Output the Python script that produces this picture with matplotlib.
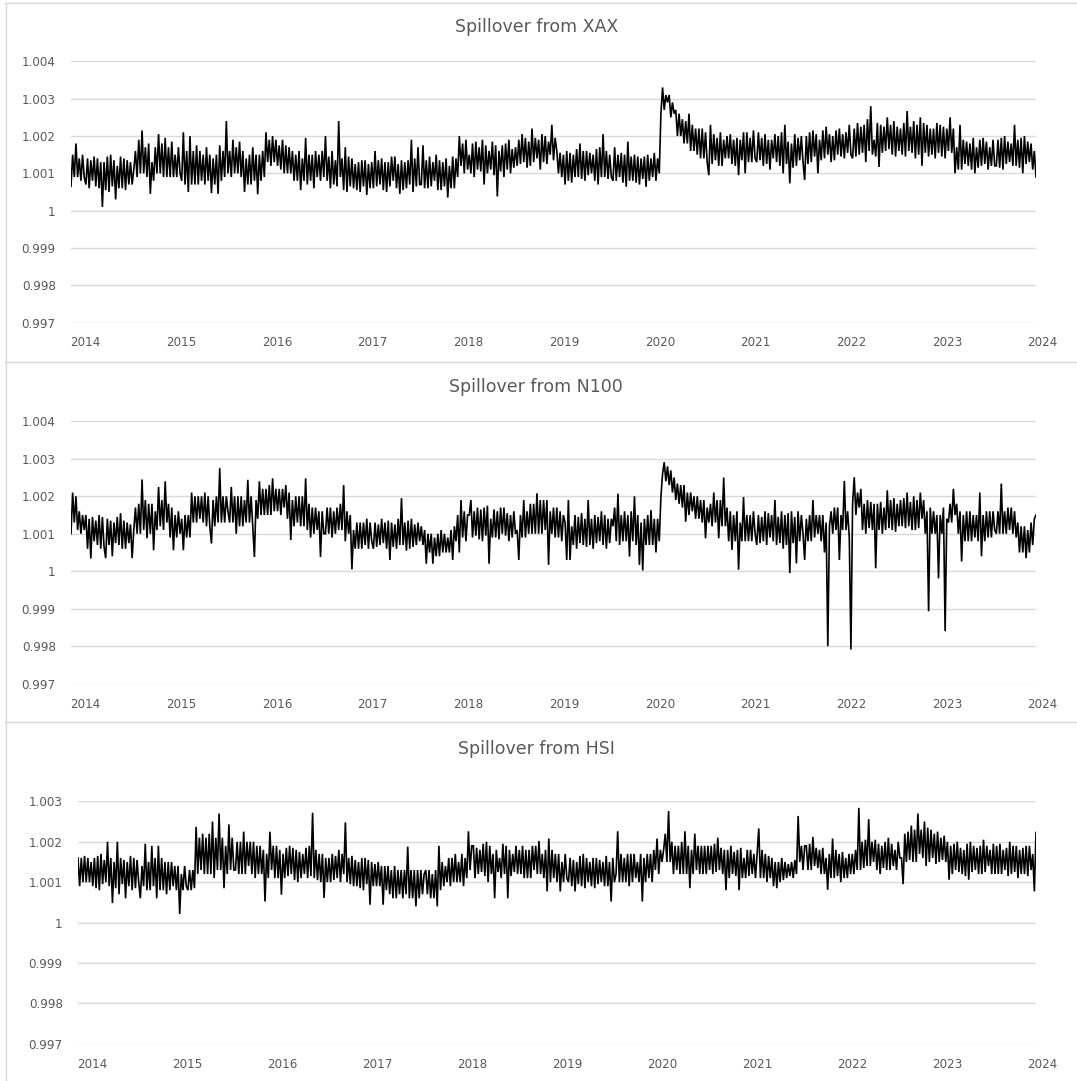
import matplotlib
matplotlib.use("Agg")
import matplotlib.pyplot as plt
from matplotlib.lines import Line2D
import numpy as np

# Spillover index, one row per half year.
# Values are the deviation from 1 in units of 0.001 (1.21 -> 1.00121).
SERIES_START = 2013.85
SERIES_END = 2023.93
YEARS = list(range(2014, 2025))

XAX_DEV = [
    0.65, 1.5, 0.9, 1.8, 0.9, 1.4, 0.8, 1.5, 0.9,
    0.7, 1.4, 0.6, 1.35, 0.8, 1.45, 0.65, 1.4, 0.6, 1.3, 0.1, 1.3, 0.55, 1.45, 0.5, 1.5, 0.65, 1.35, 0.3, 1.2, 0.6, 1.45, 0.6, 1.4, 0.55, 1.35, 0.7, 1.3, 0.7,  # 2014 H1
    1.1, 1.6, 0.9, 1.9, 1.0, 2.15, 1.0, 1.7, 0.9, 1.8, 0.45, 1.3, 0.8, 1.7, 1.0, 2.05, 1.0, 1.8, 0.9, 1.95, 0.9, 1.7, 0.9, 1.85, 0.9, 1.5, 0.9, 1.7, 1.0,  # 2014 H2
    0.8, 2.1, 0.7, 1.6, 0.5, 2.0, 0.7, 1.6, 0.7, 1.75, 0.7, 1.6, 0.8, 1.5, 0.7, 1.7, 0.8, 1.5, 0.47, 1.4, 0.7, 1.5, 0.45, 1.75, 0.8, 1.6, 0.9, 2.4, 1.0,  # 2015 H1
    1.6, 0.9, 1.9, 1.0, 1.7, 1.0, 1.85, 0.9, 1.6, 0.5, 1.4, 0.7, 1.5, 0.7, 1.7, 0.8, 1.5, 0.44, 1.5, 0.8, 1.6, 0.9, 2.1, 1.3, 1.9, 1.2, 2.0, 1.3, 1.9,  # 2015 H2
    1.2, 1.75, 1.1, 1.9, 1.0, 1.75, 1.0, 1.7, 1.0, 1.6, 0.8, 1.5, 0.8, 1.6, 0.55, 1.4, 0.8, 1.95, 0.7, 1.5, 0.8, 1.5, 0.6, 1.6, 0.9, 1.5, 0.8, 1.6, 0.9,  # 2016 H1
    2.0, 0.8, 1.45, 0.6, 1.6, 0.7, 1.35, 0.65, 2.4, 0.9, 1.4, 0.55, 1.7, 0.5, 1.45, 0.65, 1.4, 0.6, 1.25, 0.55, 1.3, 0.5, 1.35, 0.65, 1.35, 0.42, 1.25, 0.6, 1.3,  # 2016 H2
    0.6, 1.6, 0.65, 1.35, 0.7, 1.4, 0.55, 1.3, 0.5, 1.3, 0.65, 1.45, 0.8, 1.45, 0.6, 1.25, 0.45, 1.35, 0.55, 1.3, 0.6, 1.35, 0.7, 1.9, 0.5, 1.4, 0.65, 1.7, 0.7,  # 2017 H1
    0.7, 1.75, 0.6, 1.35, 0.6, 1.45, 0.65, 1.3, 0.8, 1.5, 0.55, 1.35, 0.55, 1.3, 0.65, 1.4, 0.35, 1.2, 0.6, 1.45, 0.6, 1.4, 0.9, 2.0, 1.2, 1.8, 1.0, 1.9, 1.1,  # 2017 H2
    1.5, 1.0, 1.8, 0.9, 1.85, 1.1, 1.7, 1.05, 1.9, 0.7, 1.75, 1.0, 1.6, 1.1, 1.85, 0.95, 1.75, 0.38, 1.6, 1.05, 1.75, 0.9, 1.8, 1.1, 1.9, 1.0, 1.65, 1.15, 1.7,  # 2018 H1
    1.2, 1.9, 1.25, 2.05, 1.3, 1.95, 1.15, 1.85, 1.2, 2.2, 1.3, 1.95, 1.4, 1.9, 1.1, 2.05, 1.3, 2.0, 1.25, 1.85, 1.5, 2.3, 1.35, 1.95, 1.6, 1.0, 1.55, 0.9, 1.5,  # 2018 H2
    0.7, 1.6, 0.8, 1.55, 0.75, 1.5, 0.9, 1.65, 0.9, 1.8, 0.85, 1.6, 0.8, 1.6, 0.95, 1.55, 1.0, 1.5, 0.8, 1.65, 0.7, 1.7, 0.9, 2.05, 0.9, 1.6, 0.85, 1.5, 0.9,  # 2019 H1
    0.8, 1.7, 0.8, 1.5, 0.9, 1.55, 0.75, 1.5, 0.64, 1.85, 0.8, 1.45, 0.8, 1.5, 0.75, 1.45, 0.7, 1.4, 0.85, 1.45, 0.64, 1.5, 0.8, 1.4, 0.9, 1.55, 0.8, 1.4, 1.0,  # 2019 H2
    2.6, 3.3, 2.7, 3.1, 2.9, 3.1, 2.5, 2.9, 2.6, 2.7, 2.0, 2.6, 2.0, 2.45, 1.8, 2.4, 1.8, 2.6, 1.6, 2.3, 1.6, 2.2, 1.5, 2.2, 1.4, 2.2, 1.4, 2.1, 1.3,  # 2020 H1
    0.95, 2.3, 1.25, 2.05, 1.35, 1.95, 1.2, 2.1, 1.2, 1.9, 1.4, 2.0, 1.4, 2.05, 1.25, 1.9, 1.2, 1.95, 0.95, 1.9, 1.35, 2.1, 1.0, 2.1, 1.3, 1.95, 1.3, 2.15, 1.4,  # 2020 H2
    1.3, 2.1, 1.35, 1.95, 1.2, 2.05, 1.25, 1.9, 1.1, 1.9, 1.4, 2.05, 1.3, 2.0, 1.2, 2.1, 1.0, 2.3, 1.25, 1.85, 0.73, 1.8, 1.15, 2.05, 1.2, 1.95, 1.35, 2.0, 1.3,  # 2021 H1
    0.82, 2.0, 1.25, 2.1, 1.3, 2.15, 1.45, 2.05, 1.0, 1.9, 1.35, 2.15, 1.4, 2.25, 1.5, 2.05, 1.3, 2.0, 1.35, 2.15, 1.5, 2.2, 1.45, 2.05, 1.4, 2.1, 1.55, 2.3, 1.5,  # 2021 H2
    1.4, 2.2, 1.45, 2.35, 1.5, 2.25, 1.55, 2.3, 1.3, 2.45, 1.6, 2.8, 1.5, 1.9, 1.45, 2.35, 1.17, 2.3, 1.55, 2.25, 1.6, 2.5, 1.65, 2.3, 1.5, 2.4, 1.45, 2.25, 1.6,  # 2022 H1
    2.2, 1.5, 2.35, 1.45, 2.67, 1.6, 2.25, 1.55, 2.4, 1.4, 2.3, 1.5, 2.5, 1.2, 2.35, 1.55, 2.3, 1.45, 2.2, 1.5, 2.2, 1.4, 2.35, 1.55, 2.3, 1.45, 2.25, 1.4, 2.2,  # 2022 H2
    1.6, 2.5, 1.55, 2.2, 1.0, 1.7, 1.1, 2.3, 1.1, 1.9, 1.25, 1.85, 1.2, 1.8, 1.1, 1.95, 1.0, 1.7, 1.15, 1.9, 1.2, 1.95, 1.25, 1.85, 1.1, 1.7, 1.2, 1.9, 1.2,  # 2023 H1
    1.2, 1.9, 1.15, 1.95, 1.1, 2.0, 1.25, 1.85, 1.3, 1.8, 1.2, 2.3, 1.2, 1.9, 1.15, 1.95, 1.0, 2.0, 1.25, 1.85, 1.3, 1.8, 1.1, 1.6, 0.9,  # 2023 H2
]

N100_DEV = [
    1.0, 2.1, 1.3, 2.0, 1.1, 1.6, 1.0, 1.5, 1.1,
    1.5, 0.6, 1.4, 0.34, 1.45, 0.8, 1.35, 0.7, 1.5, 0.6, 1.45, 0.65, 0.35, 1.4, 0.7, 1.35, 0.4, 1.3, 0.75, 1.45, 0.7, 1.55, 0.6, 1.35, 0.6, 1.3, 0.75, 1.25, 0.35,  # 2014 H1
    1.1, 1.7, 1.0, 1.8, 1.0, 2.45, 1.1, 1.9, 0.88, 1.8, 1.0, 1.8, 0.56, 1.6, 1.1, 2.25, 1.2, 1.9, 1.1, 2.4, 1.3, 1.8, 0.9, 1.7, 0.56, 1.5, 0.9, 1.6, 1.0,  # 2014 H2
    1.4, 0.56, 1.5, 0.9, 1.5, 0.9, 2.1, 1.3, 2.0, 1.3, 2.0, 1.4, 2.0, 1.3, 2.1, 1.2, 2.0, 1.2, 0.74, 1.9, 1.2, 2.0, 1.3, 2.75, 1.3, 2.0, 1.3, 2.0, 1.6,  # 2015 H1
    1.3, 2.25, 1.3, 2.0, 1.0, 2.0, 1.2, 2.0, 1.2, 1.9, 1.3, 2.44, 1.3, 2.0, 1.2, 0.38, 1.9, 1.4, 2.4, 1.5, 2.2, 1.5, 2.2, 1.5, 2.3, 1.5, 2.48, 1.6, 2.2,  # 2015 H2
    1.6, 2.2, 1.5, 2.2, 1.7, 2.3, 1.4, 2.1, 0.83, 1.9, 1.2, 2.0, 1.3, 2.0, 1.2, 2.0, 1.2, 2.48, 1.1, 1.8, 0.9, 1.7, 1.0, 1.7, 1.1, 1.6, 0.38, 1.6, 1.0,  # 2016 H1
    1.0, 1.7, 1.0, 1.7, 0.9, 1.6, 1.0, 1.7, 1.1, 1.8, 1.1, 2.3, 0.8, 1.6, 1.0, 1.5, 0.05, 1.1, 0.6, 1.3, 0.6, 1.3, 0.6, 1.3, 0.7, 1.4, 0.6, 1.3, 0.8,  # 2016 H2
    0.6, 1.3, 0.65, 1.25, 0.7, 1.4, 0.75, 1.3, 0.6, 1.35, 0.3, 1.3, 0.65, 1.25, 0.6, 1.4, 0.7, 1.95, 0.7, 1.3, 0.55, 1.35, 0.6, 1.4, 0.65, 1.25, 0.7, 1.3, 0.8,  # 2017 H1
    1.2, 0.7, 1.1, 0.2, 1.0, 0.5, 1.0, 0.2, 0.9, 0.4, 1.0, 0.4, 1.1, 0.5, 1.0, 0.5, 0.9, 0.5, 1.1, 0.3, 1.2, 0.8, 1.5, 0.5, 1.9, 0.9, 1.6, 0.8, 1.5,  # 2017 H2
    1.5, 1.9, 0.9, 1.6, 0.95, 1.7, 0.85, 1.65, 0.8, 1.7, 0.95, 1.75, 0.2, 1.4, 0.9, 1.65, 0.9, 1.6, 0.85, 1.7, 1.0, 1.7, 0.95, 1.55, 0.8, 1.5, 0.9, 1.6, 1.0,  # 2018 H1
    1.1, 0.3, 1.5, 0.9, 1.9, 0.9, 1.6, 1.0, 1.8, 1.0, 1.8, 1.0, 2.08, 1.0, 1.9, 1.0, 1.9, 1.1, 1.9, 0.17, 1.6, 1.0, 1.7, 0.9, 1.7, 0.9, 1.6, 0.8, 1.5,  # 2018 H2
    1.3, 0.3, 1.9, 0.3, 1.2, 0.7, 1.5, 0.6, 1.45, 0.75, 1.55, 0.7, 1.4, 0.65, 1.9, 0.7, 1.4, 0.6, 1.5, 0.75, 1.45, 0.8, 1.6, 0.7, 1.5, 0.6, 1.4, 0.75, 1.4,  # 2019 H1
    1.2, 1.7, 0.8, 2.07, 0.7, 1.5, 0.8, 1.6, 0.8, 1.5, 0.39, 1.6, 0.8, 2.0, 0.7, 1.5, 0.17, 1.3, 0.02, 1.4, 0.7, 1.5, 0.7, 1.63, 0.7, 1.4, 0.5, 1.4, 0.8,  # 2019 H2
    1.98, 2.6, 2.91, 2.4, 2.8, 2.3, 2.69, 2.1, 2.5, 1.9, 2.34, 1.8, 2.3, 1.7, 2.3, 1.32, 2.1, 1.5, 2.1, 1.6, 2.0, 1.4, 2.0, 1.4, 1.9, 1.3, 1.9, 0.88, 1.7,  # 2020 H1
    1.3, 1.8, 1.2, 2.1, 1.3, 1.9, 0.88, 1.9, 1.2, 2.5, 1.2, 1.7, 0.8, 1.6, 0.57, 1.5, 0.8, 1.6, 0.04, 1.3, 0.8, 1.98, 0.8, 1.5, 0.8, 1.5, 0.8, 1.6, 1.0,  # 2020 H2
    0.7, 1.5, 0.75, 1.45, 0.8, 1.6, 0.7, 1.55, 0.9, 1.5, 0.8, 1.9, 0.7, 1.45, 0.75, 1.6, 0.6, 1.5, 0.7, 1.55, -0.05, 1.6, 0.75, 1.45, 0.21, 1.6, 0.8, 1.5, 1.0,  # 2021 H1
    0.3, 1.4, 0.8, 1.5, 0.8, 1.9, 0.9, 1.5, 1.0, 1.5, 0.8, 1.5, 0.5, 1.3, -2.0, 1.2, 1.6, 1.0, 1.7, 1.1, 1.7, 0.3, 1.5, 1.1, 2.41, 1.1, 1.6, 0.9, -2.09,  # 2021 H2
    1.8, 2.51, 1.5, 2.1, 1.7, 2.2, 1.1, 1.8, 1.0, 1.9, 1.15, 1.85, 1.1, 1.8, 0.08, 1.8, 1.1, 1.85, 1.0, 1.7, 1.1, 2.16, 1.15, 1.9, 1.1, 1.95, 1.05, 1.8, 1.2,  # 2022 H1
    1.9, 1.2, 1.95, 1.15, 2.1, 1.2, 1.85, 1.1, 2.0, 1.1, 1.9, 1.15, 2.1, 1.4, 1.9, 1.0, 1.6, -1.07, 1.7, 1.0, 1.6, 1.0, 1.5, -0.19, 1.5, 1.0, 1.7, -1.6, 1.4,  # 2022 H2
    1.3, 1.8, 1.3, 2.2, 1.5, 1.8, 1.0, 1.6, 0.26, 1.5, 0.8, 1.6, 0.8, 1.6, 0.8, 1.5, 0.9, 1.5, 0.8, 2.1, 0.4, 1.5, 0.8, 1.6, 0.9, 1.6, 0.9, 1.6, 1.1,  # 2023 H1
    1.0, 1.6, 1.0, 2.34, 1.0, 1.6, 1.0, 1.7, 1.1, 1.7, 1.0, 1.6, 0.9, 1.3, 0.5, 1.2, 0.5, 1.2, 0.35, 1.1, 0.5, 1.3, 0.7, 1.4, 1.5,  # 2023 H2
]

HSI_DEV = [
    1.6, 0.9, 1.6, 1.0, 1.65, 1.0, 1.6, 1.0, 1.5,
    0.9, 1.6, 0.85, 1.65, 0.8, 1.7, 0.95, 1.55, 1.0, 2.0, 0.9, 1.6, 0.48, 1.5, 0.85, 2.0, 0.7, 1.6, 0.95, 1.55, 0.6, 1.5, 0.9, 1.65, 0.8, 1.6, 0.85, 1.55, 1.0,  # 2014 H1
    0.6, 1.4, 0.9, 1.95, 0.8, 1.5, 0.8, 1.9, 0.9, 1.6, 0.6, 1.9, 0.8, 1.6, 0.8, 1.5, 0.7, 1.5, 0.8, 1.5, 0.9, 1.4, 0.8, 1.4, 0.21, 1.2, 0.8, 1.4, 0.9,  # 2014 H2
    0.8, 1.3, 0.8, 1.3, 0.85, 2.37, 1.2, 2.1, 1.3, 2.2, 1.2, 2.1, 1.2, 2.2, 1.2, 2.5, 1.1, 2.1, 1.3, 2.7, 1.3, 2.1, 0.85, 1.9, 1.2, 2.43, 1.3, 2.1, 1.3,  # 2015 H1
    1.3, 2.0, 1.2, 2.0, 1.2, 2.25, 1.2, 2.0, 1.4, 2.0, 1.2, 2.0, 1.1, 1.9, 1.2, 1.9, 1.2, 1.8, 0.52, 1.7, 1.1, 2.25, 1.3, 1.9, 1.1, 1.9, 1.1, 1.8, 0.69,  # 2015 H2
    1.7, 1.1, 1.85, 1.15, 1.9, 1.2, 1.85, 1.05, 1.8, 1.0, 1.75, 1.1, 1.7, 1.2, 1.85, 1.1, 1.9, 1.15, 2.72, 1.1, 1.8, 1.05, 1.7, 1.0, 1.7, 0.61, 1.6, 1.0, 1.6,  # 2016 H1
    1.0, 1.7, 1.05, 1.65, 1.1, 1.8, 1.0, 1.7, 1.2, 2.48, 1.0, 1.6, 0.95, 1.65, 0.9, 1.55, 0.9, 1.5, 0.85, 1.6, 0.8, 1.6, 0.95, 1.55, 0.44, 1.5, 0.9, 1.45, 0.9,  # 2016 H2
    1.5, 0.9, 1.4, 0.44, 1.4, 0.8, 1.4, 0.7, 1.3, 0.6, 1.4, 0.6, 1.3, 0.7, 1.3, 0.6, 1.3, 0.7, 1.88, 0.6, 1.3, 0.6, 1.3, 0.4, 1.3, 0.6, 1.3, 0.7, 1.2,  # 2017 H1
    1.3, 0.7, 1.3, 0.6, 1.2, 0.6, 1.3, 0.4, 1.9, 0.8, 1.5, 0.9, 1.4, 1.0, 1.6, 0.9, 1.6, 1.0, 1.7, 1.0, 1.5, 1.0, 1.7, 0.9, 1.6, 1.1, 2.26, 1.3, 1.9,  # 2017 H2
    1.9, 1.1, 1.85, 1.2, 1.8, 1.25, 1.95, 1.15, 2.0, 1.0, 1.9, 1.2, 1.7, 0.6, 1.8, 1.25, 1.6, 1.1, 1.95, 1.2, 1.9, 0.6, 1.8, 1.15, 1.7, 1.25, 1.9, 1.2, 1.8,  # 2018 H1
    1.2, 1.9, 1.1, 1.8, 1.1, 1.8, 1.1, 1.9, 1.3, 1.9, 1.2, 2.02, 1.2, 1.7, 1.1, 1.8, 0.77, 2.08, 1.0, 1.8, 1.1, 1.7, 1.0, 1.7, 0.77, 1.5, 1.0, 1.7, 1.1,  # 2018 H2
    1.0, 1.6, 0.9, 1.55, 0.77, 1.5, 0.95, 1.65, 0.9, 1.7, 0.85, 1.6, 1.0, 1.5, 0.9, 1.6, 0.85, 1.6, 0.95, 1.55, 1.0, 1.5, 0.9, 1.65, 0.9, 1.5, 0.52, 1.6, 1.0,  # 2019 H1
    1.2, 2.26, 1.0, 1.7, 1.0, 1.6, 1.0, 1.7, 0.9, 1.7, 1.0, 1.7, 1.1, 1.5, 1.0, 1.7, 0.52, 1.6, 1.0, 1.7, 1.1, 1.7, 1.0, 1.8, 1.3, 2.08, 1.2, 1.8, 1.5,  # 2019 H2
    1.8, 2.2, 1.5, 2.76, 1.5, 2.0, 1.2, 1.9, 1.3, 1.9, 1.2, 2.0, 1.2, 2.26, 1.2, 1.9, 0.85, 1.8, 1.2, 2.2, 1.3, 1.9, 1.2, 1.9, 1.2, 1.9, 1.2, 1.9, 1.3,  # 2020 H1
    1.9, 1.2, 1.95, 1.25, 2.1, 1.3, 1.85, 1.2, 1.8, 0.8, 1.8, 1.1, 1.9, 1.2, 1.75, 1.15, 1.8, 0.8, 1.85, 1.1, 1.6, 1.1, 1.8, 1.15, 1.8, 1.2, 1.7, 1.1, 1.7,  # 2020 H2
    2.33, 1.1, 1.8, 1.1, 1.7, 1.0, 1.65, 1.1, 1.6, 0.9, 1.5, 0.85, 1.5, 1.0, 1.6, 1.05, 1.5, 1.1, 1.45, 1.15, 1.5, 1.1, 1.55, 1.2, 2.64, 1.5, 1.9, 1.3, 1.9,  # 2021 H1
    1.9, 1.3, 1.95, 1.3, 2.12, 1.4, 1.85, 1.35, 1.8, 1.2, 1.85, 1.2, 1.6, 0.81, 1.7, 1.1, 2.08, 1.1, 1.8, 1.15, 1.7, 1.0, 1.75, 1.1, 1.6, 1.1, 1.7, 1.2, 1.7,  # 2021 H2
    1.2, 1.8, 1.3, 2.84, 1.3, 2.0, 1.35, 2.05, 1.4, 2.56, 1.4, 2.0, 1.5, 2.05, 1.3, 1.95, 1.2, 1.9, 1.35, 2.0, 1.3, 2.1, 1.3, 1.95, 1.4, 1.8, 1.3, 2.0, 1.6,  # 2022 H1
    1.6, 0.95, 2.2, 1.5, 2.25, 1.55, 2.4, 1.5, 2.3, 1.5, 2.7, 1.7, 2.3, 1.6, 2.5, 1.4, 2.35, 1.5, 2.3, 1.6, 2.2, 1.45, 2.25, 1.5, 2.1, 1.55, 2.15, 1.5, 2.0,  # 2022 H2
    1.06, 1.9, 1.2, 1.95, 1.3, 2.0, 1.25, 1.85, 1.2, 1.8, 1.15, 1.95, 1.06, 2.0, 1.25, 1.9, 1.3, 1.85, 1.2, 1.9, 1.2, 2.05, 1.25, 1.9, 1.4, 1.8, 1.2, 1.95, 1.2,  # 2023 H1
    1.9, 1.2, 1.95, 1.2, 1.8, 1.3, 1.85, 1.15, 2.0, 1.2, 1.9, 1.25, 1.9, 1.1, 1.8, 1.2, 1.85, 1.2, 1.9, 1.15, 1.9, 1.3, 1.7, 0.77, 2.23,  # 2023 H2
]

TICKS_WIDE = [0.997, 0.998, 0.999, 1.0, 1.001, 1.002, 1.003, 1.004]
TICKS_NARROW = [0.997, 0.998, 0.999, 1.0, 1.001, 1.002, 1.003]

TEXT = "#595959"
GRID = "#d9d9d9"
W, H = 1077, 1081

# (title, values, ticks, plot box in pixels: left, top, right, bottom, title y)
panels = [
    ("Spillover from XAX", XAX_DEV, TICKS_WIDE, (71, 61, 1036, 323), 27),
    ("Spillover from N100", N100_DEV, TICKS_WIDE, (71, 421, 1036, 684), 387),
    ("Spillover from HSI", HSI_DEV, TICKS_NARROW, (78, 801, 1036, 1044), 749),
]


def tick_text(v):
    s = f"{v:.3f}"
    return "1" if s == "1.000" else s


fig = plt.figure(figsize=(W / 100, H / 100), dpi=100)

for title, dev, ticks, (l, t, r, b), ty in panels:
    ax = fig.add_axes([l / W, 1 - b / H, (r - l) / W, (b - t) / H])
    x = np.linspace(SERIES_START, SERIES_END, len(dev))
    y = 1 + np.array(dev) * 1e-3
    ax.plot(x, y, color="black", lw=1.2, solid_joinstyle="miter")

    ax.set_xlim(SERIES_START, SERIES_END)
    ax.set_ylim(ticks[0] - 0.00001, ticks[-1] + 0.00001)
    ax.set_yticks(ticks)
    ax.set_yticklabels([tick_text(v) for v in ticks])
    ax.set_xticks([])
    ax.tick_params(axis="y", length=0, pad=11, labelcolor=TEXT, labelsize=8.6)
    ax.yaxis.grid(True, color=GRID, lw=1.0)
    ax.set_axisbelow(True)
    for s in ax.spines.values():
        s.set_visible(False)

    for yr in YEARS:
        ax.annotate(str(yr), xy=(yr, 0), xycoords=("data", "axes fraction"),
                    xytext=(0, -20), textcoords="offset pixels",
                    ha="center", va="center", fontsize=8.6, color=TEXT,
                    annotation_clip=False)

    fig.text(0.498, 1 - ty / H, title, ha="center", va="center",
             fontsize=12.5, color=TEXT)

# chart frames
for yb in (3, 362, 722):
    fig.add_artist(Line2D([5 / W, 1], [1 - yb / H] * 2, color=GRID, lw=1.0))
fig.add_artist(Line2D([5.5 / W] * 2, [0, 1 - 3 / H], color=GRID, lw=1.0))

fig.savefig("out.png", dpi=100)
